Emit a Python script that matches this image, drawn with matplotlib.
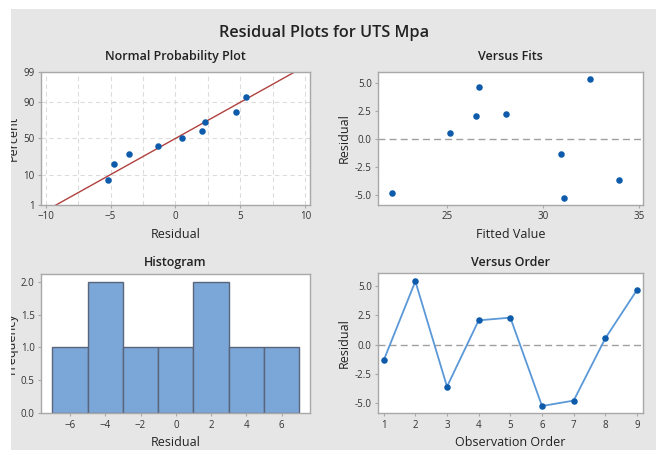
#%% Dependencies
import matplotlib
matplotlib.use("Agg")
import matplotlib.pyplot as plt
from matplotlib.patches import Rectangle
from matplotlib.ticker import FormatStrFormatter, NullLocator
import numpy as np
from statistics import NormalDist

plt.rcParams["font.family"] = ["Open Sans", "DejaVu Sans"]

#%% Data
order = [1, 2, 3, 4, 5, 6, 7, 8, 9]
residuals = [-1.34, 5.40, -3.58, 2.07, 2.30, -5.23, -4.77, 0.54, 4.66]
fitted = [30.94, 32.45, 33.98, 26.53, 28.07, 31.10, 22.16, 25.14, 26.68]
prob_percent = [7.4, 18.1, 28.7, 39.4, 50.0, 60.6, 71.3, 81.9, 92.6]
prob_ticks = [1, 10, 50, 90, 99]
hist_bins = [-7, -5, -3, -1, 1, 3, 5, 7]

#%% Styles
BG = "#E6E6E6"
SPINE = "#A8A8A8"
GRID = "#DCDCDC"
DOT = "#0D5BAA"
LINE = "#5A98D8"
BAR = "#7BA6D8"
BAR_EDGE = "#59657A"
FIT = "#B0413E"
TXT = "#222222"

nd = NormalDist()


def to_z(p):
    p = np.clip(np.asarray(p, dtype=float), 0.001, 99.999) / 100.0
    return np.array([nd.inv_cdf(v) for v in p.ravel()]).reshape(p.shape)


def from_z(z):
    z = np.asarray(z, dtype=float)
    return np.array([nd.cdf(v) for v in z.ravel()]).reshape(z.shape) * 100.0


def style(ax, title, xlabel, ylabel, pad, ylab_x):
    ax.set_facecolor("white")
    for s in ax.spines.values():
        s.set_color(SPINE)
        s.set_linewidth(1.0)
    ax.tick_params(which="major", direction="out", length=2.5, width=0.8,
                   color=SPINE, labelsize=7, labelcolor="#333333", pad=2)
    ax.set_title(title, fontsize=9, fontweight="semibold", color=TXT, pad=pad)
    ax.set_xlabel(xlabel, fontsize=9, color=TXT, labelpad=4)
    ax.set_ylabel(ylabel, fontsize=9, color=TXT)
    ax.yaxis.set_label_coords(ylab_x, 0.5)


fig = plt.figure(figsize=(6.56, 4.5), dpi=100, facecolor=BG)

ax1 = fig.add_axes([0.0625, 0.5444, 0.410, 0.2962])
ax2 = fig.add_axes([0.5762, 0.5444, 0.404, 0.2962])
ax3 = fig.add_axes([0.0625, 0.0816, 0.410, 0.3096])
ax4 = fig.add_axes([0.5762, 0.0816, 0.404, 0.3111])

#%% Normal probability plot
res_sorted = np.sort(residuals)
mu = np.mean(residuals)
sd = np.std(residuals, ddof=1)
x_line = np.array([-12.0, 12.0])

ax1.set_yscale("function", functions=(to_z, from_z))
ax1.plot(x_line, from_z((x_line - mu) / sd), color=FIT, lw=1.0, zorder=2)
ax1.scatter(res_sorted, prob_percent, s=22, color=DOT, zorder=3, linewidths=0)
ax1.set_xlim(-10.36, 10.36)
ax1.set_ylim(1, 99)
ax1.set_xticks([-10, -5, 0, 5, 10])
ax1.set_xticks(np.arange(-10, 10.1, 2.5), minor=True)
ax1.set_yticks(prob_ticks)
ax1.set_yticklabels([str(t) for t in prob_ticks])
ax1.yaxis.set_minor_locator(NullLocator())
ax1.tick_params(which="minor", length=0)
ax1.grid(True, which="both", axis="x", color=GRID, ls=(0, (4, 3)), lw=0.8)
ax1.grid(True, which="major", axis="y", color=GRID, ls=(0, (4, 3)), lw=0.8)
ax1.set_axisbelow(True)
style(ax1, "Normal Probability Plot", "Residual", "Percent", 8.5, -0.078)

#%% Versus fits
ax2.axhline(0, color="#A0A0A0", lw=1.0, ls=(0, (5, 3)), zorder=1)
ax2.scatter(fitted, residuals, s=22, color=DOT, zorder=3, linewidths=0)
ax2.set_xlim(21.41, 35.22)
ax2.set_ylim(-5.85, 6.02)
ax2.set_xticks([25, 30, 35])
ax2.set_yticks([-5.0, -2.5, 0.0, 2.5, 5.0])
ax2.yaxis.set_major_formatter(FormatStrFormatter("%.1f"))
style(ax2, "Versus Fits", "Fitted Value", "Residual", 8.5, -0.103)

#%% Histogram
ax3.hist(residuals, bins=hist_bins, color=BAR, edgecolor=BAR_EDGE, linewidth=1.0)
ax3.set_xlim(-7.64, 7.6)
ax3.set_ylim(0, 2.117)
ax3.set_xticks([-6, -4, -2, 0, 2, 4, 6])
ax3.set_yticks([0.0, 0.5, 1.0, 1.5, 2.0])
ax3.yaxis.set_major_formatter(FormatStrFormatter("%.1f"))
style(ax3, "Histogram", "Residual", "Frequency", 6, -0.086)

#%% Versus order
ax4.axhline(0, color="#A0A0A0", lw=1.0, ls=(0, (5, 3)), zorder=1)
ax4.plot(order, residuals, color=LINE, lw=1.3, zorder=2)
ax4.scatter(order, residuals, s=22, color=DOT, zorder=3, linewidths=0)
ax4.set_xlim(0.82, 9.19)
ax4.set_ylim(-5.85, 6.08)
ax4.set_xticks(order)
ax4.set_yticks([-5.0, -2.5, 0.0, 2.5, 5.0])
ax4.yaxis.set_major_formatter(FormatStrFormatter("%.1f"))
style(ax4, "Versus Order", "Observation Order", "Residual", 5, -0.103)

#%% Main title and white screenshot margins
fig.text(0.494, 1 - 37.3 / 450, "Residual Plots for UTS Mpa", ha="center",
         va="baseline", fontsize=11.7, fontweight="semibold", color=TXT)

fig.add_artist(Rectangle((0, 0), 11 / 656, 1, transform=fig.transFigure,
                         facecolor="white", edgecolor="none", zorder=10))
fig.add_artist(Rectangle((0, 1 - 9 / 450), 1, 9 / 450, transform=fig.transFigure,
                         facecolor="white", edgecolor="none", zorder=10))

fig.savefig("out.png", dpi=100, facecolor=BG)
